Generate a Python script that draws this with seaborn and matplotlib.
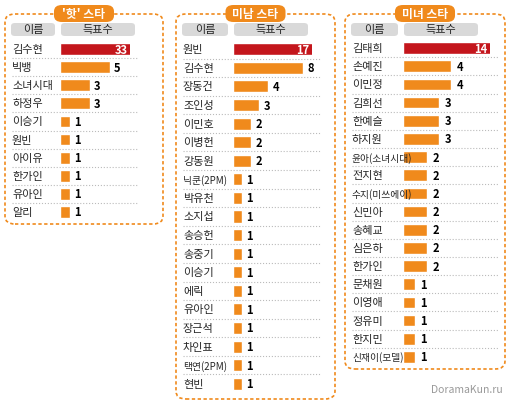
import matplotlib
matplotlib.use("Agg")
import matplotlib.pyplot as plt
from matplotlib.patches import FancyBboxPatch
import seaborn as sns
import pandas as pd

sns.set_theme(style="white")
plt.rcParams['font.family'] = ['Noto Sans CJK KR', 'DejaVu Sans']

hot_names = ["김수현","빅뱅","소녀시대","하정우","이승기","원빈","아이유","한가인","유아인","알리"]
hot_votes = [33,5,3,3,1,1,1,1,1,1]
men_names = ["원빈","김수현","장동건","조인성","이민호","이병헌","강동원","닉쿤(2PM)","박유천","소지섭",
             "송승헌","송중기","이승기","에릭","유아인","장근석","차인표","택연(2PM)","현빈"]
men_votes = [17,8,4,3,2,2,2,1,1,1,1,1,1,1,1,1,1,1,1]
women_names = ["김태희","손예진","이민정","김희선","한예슬","하지원","윤아(소녀시대)","전지현","수지(미쓰에이)",
               "신민아","송혜교","심은하","한가인","문채원","이영애","정유미","한지민","신재이(모델)"]
women_votes = [14,4,4,3,3,3,2,2,2,2,2,2,2,1,1,1,1,1]
titles = ["'핫' 스타", "미남 스타", "미녀 스타"]

W, H = 510, 402
fig = plt.figure(figsize=(W/100, H/100), dpi=100)
ORANGE = "#f08a1c"; RED = "#c4161c"

def fx(x): return x / W
def fy(y): return 1 - y / H

def rbox(x0, y0, x1, y1, fc, ec="none", ls="-", lw=1, r=6, z=0):
    p = FancyBboxPatch((fx(x0), fy(y1)), fx(x1 - x0), (y1 - y0) / H,
                       boxstyle=f"round,pad=0,rounding_size={r/W}", transform=fig.transFigure,
                       fc=fc, ec=ec, ls=ls, lw=lw, zorder=z)
    fig.add_artist(p)

panels = [
    dict(names=hot_names, votes=hot_votes, box=(5, 15, 163, 225), bx=(60, 130), y=(41, 222), xlim=7.0, namex=12),
    dict(names=men_names, votes=men_votes, box=(176, 15, 335, 400), bx=(233, 312), y=(41, 394), xlim=9.0, namex=183),
    dict(names=women_names, votes=women_votes, box=(345, 15, 505, 370), bx=(403, 490), y=(40, 367), xlim=7.2, namex=352),
]

for t, p in zip(titles, panels):
    x0, y0, x1, y1 = p["box"]
    rbox(x0, y0, x1, y1, "white", ec=ORANGE, ls=(0, (2, 1.5)), lw=1.2, r=10)
    cx = (x0 + x1) / 2
    rbox(cx - 30, 6, cx + 30, 23, ORANGE, r=8, z=2)
    fig.text(fx(cx), fy(14.5), t, ha="center", va="center", color="white", fontsize=8.5, fontweight="bold", zorder=3)
    rbox(x0 + 6, 24, p["bx"][0] - 5, 37, "#d9d9d9", r=4)
    rbox(p["bx"][0] + 1, 24, p["bx"][0] + 75, 37, "#d9d9d9", r=4)
    fig.text(fx((x0 + 6 + p["bx"][0] - 5) / 2), fy(30.5), "이름", ha="center", va="center", fontsize=8)
    fig.text(fx(p["bx"][0] + 38), fy(30.5), "득표수", ha="center", va="center", fontsize=8)

    ax = fig.add_axes([fx(p["bx"][0]), fy(p["y"][1]), fx(p["bx"][1] - p["bx"][0]), (p["y"][1] - p["y"][0]) / H])
    df = pd.DataFrame({"name": p["names"], "votes": p["votes"]})
    cols = [RED] + [ORANGE] * (len(df) - 1)
    sns.barplot(data=df, y="name", x="votes", hue="name", palette=cols, legend=False,
                orient="h", width=0.65, ax=ax, saturation=1)
    ax.set_xlim(0, p["xlim"])
    ax.set_ylim(len(df) - 0.5, -0.5)
    ax.axis("off")
    ax.patch.set_alpha(0)
    for i, (n, v) in enumerate(zip(p["names"], p["votes"])):
        if v > p["xlim"]:
            ax.text(p["xlim"] * 0.97, i, str(v), ha="right", va="center", color="white", fontsize=8, fontweight="bold")
        else:
            ax.text(v + p["xlim"] * 0.06, i, str(v), ha="left", va="center", color="black", fontsize=8, fontweight="bold")
        fs = 7 if len(n) > 4 else 8
        ax.text(-(p["bx"][0] - p["namex"]) / (p["bx"][1] - p["bx"][0]), i, n, transform=ax.get_yaxis_transform(),
                ha="left", va="center", fontsize=fs, clip_on=False)
        if i > 0:
            ax.plot([-(p["bx"][0] - p["namex"]) / (p["bx"][1] - p["bx"][0]), 1.1], [i - 0.5, i - 0.5],
                    transform=ax.get_yaxis_transform(), color="#bbbbbb", ls=":", lw=0.8, clip_on=False)

fig.text(fx(503), fy(395), "DoramaKun.ru", ha="right", va="bottom", color="#999999", fontsize=7.5)
fig.savefig("out.png", dpi=100)
